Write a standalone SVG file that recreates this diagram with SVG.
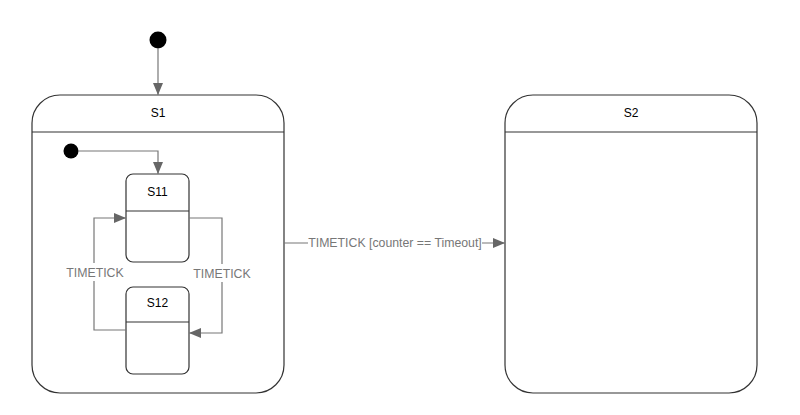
<svg xmlns="http://www.w3.org/2000/svg" width="800" height="415" viewBox="0 0 800 415">
<style>
.state{fill:#fff;stroke:#333;stroke-width:1.2}
.div{stroke:#333;stroke-width:1.2}
.title{font-family:"Liberation Sans",Arial,sans-serif;font-size:12px;fill:#000;text-anchor:middle}
.conn{fill:none;stroke:#777;stroke-width:1.2}
.lbl{font-family:"Liberation Sans",Arial,sans-serif;font-size:12.3px;fill:#777;text-anchor:middle}
.bg{fill:#fff}
</style>
<defs>
<marker id="arr" viewBox="0 0 12 10" refX="12" refY="5" markerWidth="12" markerHeight="10" markerUnits="userSpaceOnUse" orient="auto">
<path d="M0,0 L12,5 L0,10 Z" fill="#666"/>
</marker>
</defs>
<rect width="800" height="415" fill="#fff"/>
<g id="init1"><circle cx="158" cy="40" r="8.5" fill="#000"/></g>
<g id="S1">
<rect class="state" x="32" y="95" width="252" height="298" rx="28" ry="28"/>
<line class="div" x1="32" y1="132" x2="284" y2="132"/>
<text class="title" x="158" y="117">S1</text>
</g>
<g id="S2">
<rect class="state" x="505" y="95" width="252" height="298" rx="28" ry="28"/>
<line class="div" x1="505" y1="132" x2="757" y2="132"/>
<text class="title" x="631" y="117">S2</text>
</g>
<g id="init2"><circle cx="71" cy="151" r="7.5" fill="#000"/></g>
<g id="S11">
<rect class="state" x="126" y="174" width="63" height="88" rx="7" ry="7"/>
<line class="div" x1="126" y1="211" x2="189" y2="211"/>
<text class="title" x="157.5" y="196">S11</text>
</g>
<g id="S12">
<rect class="state" x="126" y="287" width="63" height="87" rx="7" ry="7"/>
<line class="div" x1="126" y1="322" x2="189" y2="322"/>
<text class="title" x="157.5" y="307">S12</text>
</g>
<g id="connectors">
<path class="conn" d="M158,48 L158,95" marker-end="url(#arr)"/>
<path class="conn" d="M78,151 L158,151 L158,174" marker-end="url(#arr)"/>
<path class="conn" d="M126,330 L94,330 L94,218 L126,218" marker-end="url(#arr)"/>
<path class="conn" d="M189,218 L222,218 L222,333 L189,333" marker-end="url(#arr)"/>
<path class="conn" d="M284,243 L505,243" marker-end="url(#arr)"/>
<rect class="bg" x="64" y="263" width="62" height="18"/>
<text class="lbl" x="95" y="277">TIMETICK</text>
<rect class="bg" x="191" y="264" width="62" height="18"/>
<text class="lbl" x="222" y="278">TIMETICK</text>
<rect class="bg" x="308" y="235" width="174" height="16"/>
<text class="lbl" x="395" y="247">TIMETICK [counter == Timeout]</text>
</g>
</svg>
